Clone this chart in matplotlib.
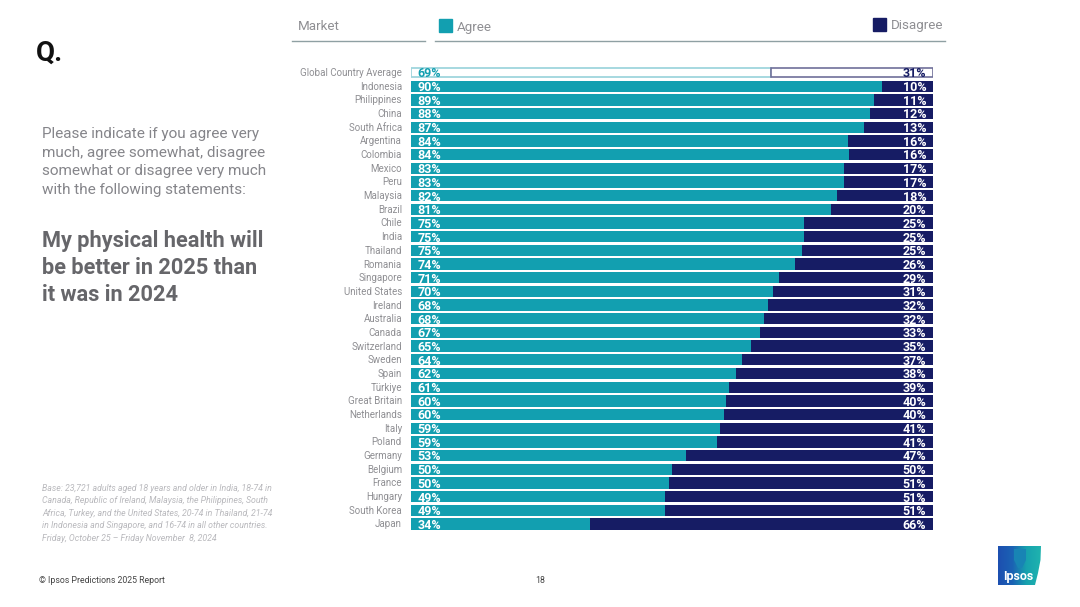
import matplotlib
matplotlib.use('Agg')
import matplotlib.pyplot as plt
from matplotlib.patches import Rectangle, Polygon
import numpy as np

plt.rcParams['font.family'] = ['Roboto', 'DejaVu Sans']

W = 1080
H = 607

markets = ['Global Country Average', 'Indonesia', 'Philippines', 'China', 'South Africa',
           'Argentina', 'Colombia', 'Mexico', 'Peru', 'Malaysia', 'Brazil', 'Chile', 'India',
           'Thailand', 'Romania', 'Singapore', 'United States', 'Ireland', 'Australia', 'Canada',
           'Switzerland', 'Sweden', 'Spain', 'Türkiye', 'Great Britain', 'Netherlands', 'Italy',
           'Poland', 'Germany', 'Belgium', 'France', 'Hungary', 'South Korea', 'Japan']
# bar lengths (slightly finer than the printed labels)
agree = [69, 90.2, 88.7, 87.9, 86.8, 83.7, 83.9, 83, 83, 81.6, 80.5, 75.3, 75.3, 74.9, 73.6,
         70.5, 69.3, 68.4, 67.6, 66.9, 65.1, 63.4, 62.3, 60.9, 60.3, 60, 59.2, 58.6, 52.7,
         50, 49.4, 48.7, 48.7, 34.3]
agree_labels = [69, 90, 89, 88, 87, 84, 84, 83, 83, 82, 81, 75, 75, 75, 74, 71, 70, 68, 68, 67,
                65, 64, 62, 61, 60, 60, 59, 59, 53, 50, 50, 49, 49, 34]
disagree_labels = [31, 10, 11, 12, 13, 16, 16, 17, 17, 18, 20, 25, 25, 25, 26, 29, 31, 32, 32, 33,
                   35, 37, 38, 39, 40, 40, 41, 41, 47, 50, 51, 51, 51, 66]

TEAL = '#129fb0'
NAVY = '#161c64'
GREY = '#8f8f93'

question_lines = ['Please indicate if you agree very', 'much, agree somewhat, disagree',
                  'somewhat or disagree very much', 'with the following statements:']
statement_lines = ['My physical health will', 'be better in 2025 than', 'it was in 2024']
base_lines = ['Base: 23,721 adults aged 18 years and older in India, 18-74 in',
              'Canada, Republic of Ireland, Malaysia, the Philippines, South',
              'Africa, Turkey, and the United States, 20-74 in Thailand, 21-74',
              'in Indonesia and Singapore, and 16-74 in all other countries.',
              'Friday, October 25 – Friday November  8, 2024']


def fx(x):
    return x / W


def fy(y):
    return 1 - y / H


def label(x, y, s, **kw):
    kw.setdefault('va', 'center')
    fig.text(fx(x), fy(y), s, **kw)


fig = plt.figure(figsize=(W / 100, H / 100), dpi=100, facecolor='white')

# main bars, axes box is set in pixels so rows land where they do in the slide
row = 13.68
top = 72.5 - row / 2
bottom = 524 + row / 2
ax = fig.add_axes([fx(411), fy(bottom), fx(933 - 411), (bottom - top) / H])
ys = np.arange(len(markets))
left_vals = np.array(agree)
right_vals = 100 - left_vals

ax.barh(ys[1:], left_vals[1:], height=0.83, color=TEAL)
ax.barh(ys[1:], right_vals[1:], left=left_vals[1:], height=0.83, color=NAVY)
# the average row is outlined only
ax.barh(ys[0], left_vals[0], height=0.72, facecolor='white', edgecolor='#9fd6dd', linewidth=1.3)
ax.barh(ys[0], right_vals[0], left=left_vals[0], height=0.72, facecolor='white',
        edgecolor='#6f7099', linewidth=1.2)

for i, y in enumerate(ys):
    c1 = TEAL if i == 0 else 'white'
    c2 = NAVY if i == 0 else 'white'
    ax.text(1.2, y + 0.1, f'{agree_labels[i]}%', color=c1, fontsize=9, fontweight='bold',
            va='center', ha='left')
    ax.text(98.7, y + 0.1, f'{disagree_labels[i]}%', color=c2, fontsize=9, fontweight='bold',
            va='center', ha='right')
    label(402, 73 + i * row, markets[i], color=GREY, fontsize=7.05, ha='right')

ax.set_xlim(0, 100)
ax.set_ylim(len(markets) - 0.5, -0.5)
ax.axis('off')

# header
label(298, 27, 'Market', color=GREY, fontsize=9.6)
label(457, 27, 'Agree', color=GREY, fontsize=9.6)
label(891, 26, 'Disagree', color=GREY, fontsize=9.6)
fig.add_artist(Rectangle((fx(439), fy(32)), 12.5 / W, 13 / H, color=TEAL, transform=fig.transFigure))
fig.add_artist(Rectangle((fx(873), fy(31)), 12.5 / W, 13 / H, color=NAVY, transform=fig.transFigure))
fig.add_artist(plt.Line2D([fx(292), fx(425)], [fy(41), fy(41)], color='#8fa0a3', lw=1))
fig.add_artist(plt.Line2D([fx(435), fx(945)], [fy(41), fy(41)], color='#8fa0a3', lw=1))

# left column
label(36, 53, 'Q.', color='#111111', fontsize=20, fontweight='bold')
for i, s in enumerate(question_lines):
    label(42, 134 + i * 18.7, s, color='#85858a', fontsize=11)
for i, s in enumerate(statement_lines):
    label(42, 241 + i * 27, s, color='#66666a', fontsize=15.7, fontweight='bold')
for i, s in enumerate(base_lines):
    label(42, 488.5 + i * 12.4, s, color='#b9b9bd', fontsize=6.35, style='italic')

label(39, 580.5, '© Ipsos Predictions 2025 Report', color='#444444', fontsize=6.3)
label(540, 580.5, '18', color='#444444', fontsize=6.3, ha='center')

# logo
logo = fig.add_axes([fx(998), fy(585), 43 / W, 39 / H])
grad = np.linspace(0, 1, 64).reshape(1, -1)
im = logo.imshow(grad, extent=[0, 43, 39, 0], aspect='auto',
                 cmap=matplotlib.colors.LinearSegmentedColormap.from_list(
                     'ipsos', ['#1d4fb0', '#1b62b4', '#17a2ae', '#1fb3ae']))
outline = Polygon([[0, 0], [43, 0], [42.5, 14], [40, 27], [37, 39], [0, 39]], transform=logo.transData,
                  facecolor='none', edgecolor='none')
logo.add_patch(outline)
im.set_clip_path(outline)
logo.add_patch(Polygon([[16, 3], [28, 3], [28, 14], [24, 22], [20, 22], [16, 14]], facecolor='#1884b4',
                       edgecolor='none'))
logo.text(20.5, 30.5, 'Ipsos', color='white', fontsize=9, fontweight='bold', ha='center', va='center')
logo.set_xlim(0, 43)
logo.set_ylim(39, 0)
logo.axis('off')

plt.savefig('out.png', dpi=100)
